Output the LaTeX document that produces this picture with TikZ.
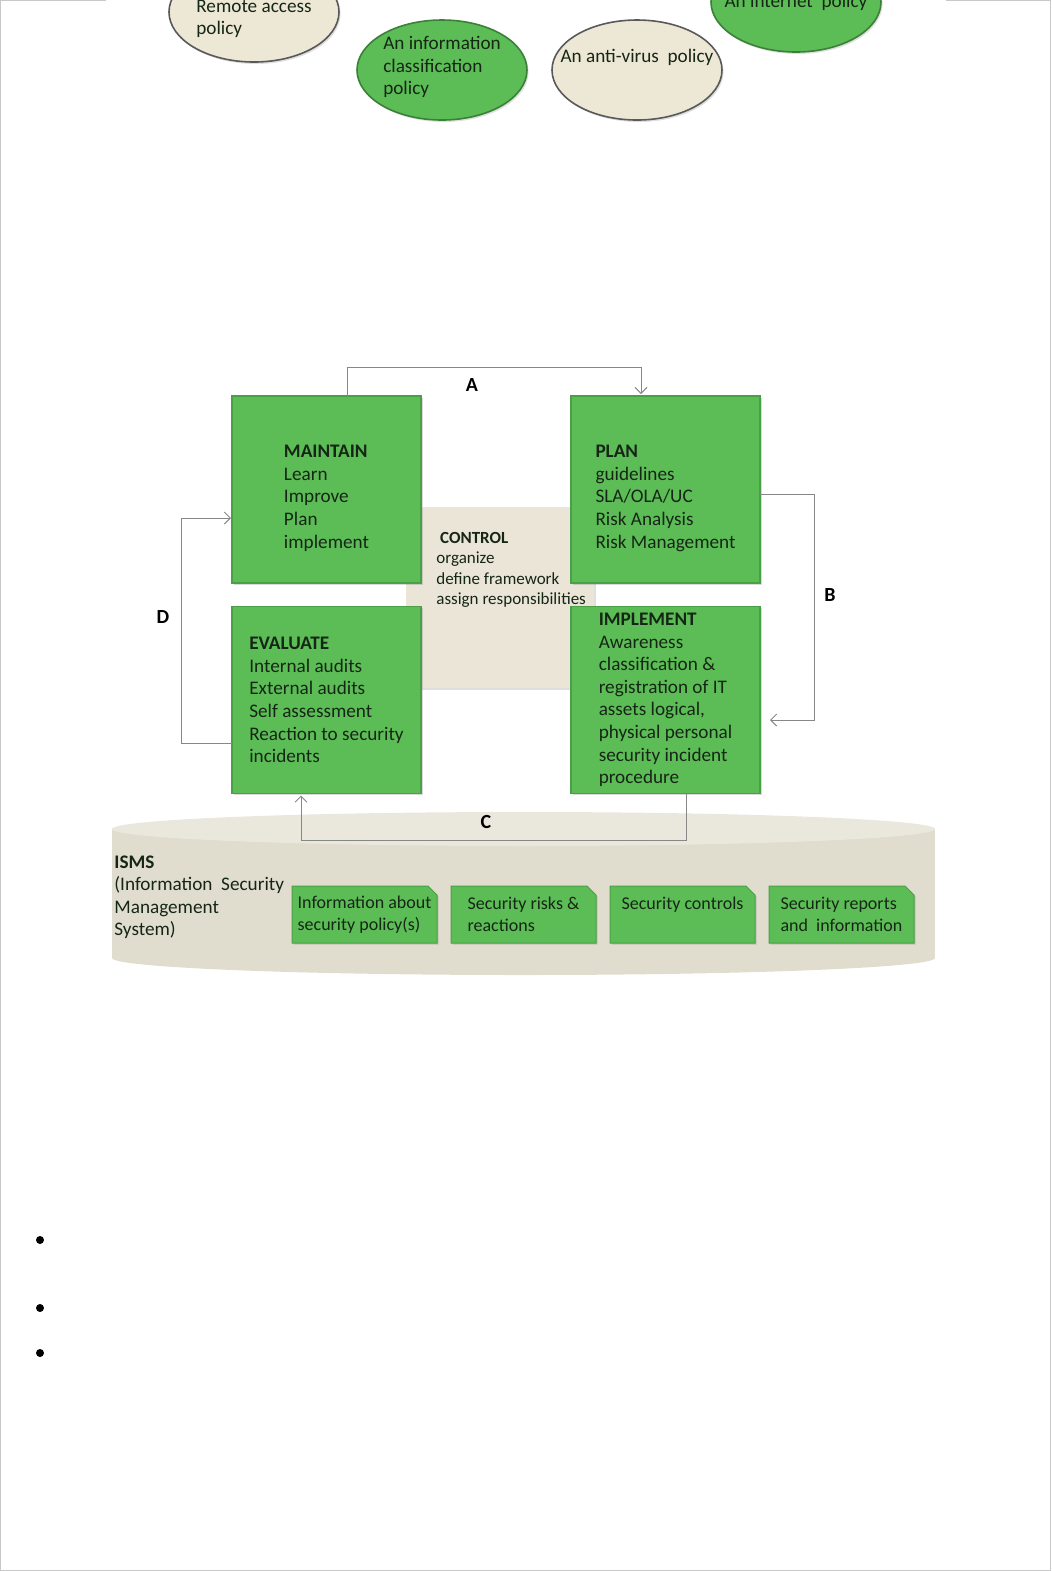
\documentclass[tikz,border=0pt]{standalone}
\usepackage{fontspec}
\setmainfont{Carlito}
\usepackage{tikz}
\usetikzlibrary{shapes.geometric,shapes.misc,arrows.meta,positioning,calc,shadows}
\definecolor{boxgreen}{RGB}{92,189,86}
\definecolor{boxedge}{RGB}{74,160,70}
\definecolor{boxtext}{RGB}{22,38,22}
\definecolor{ctrlbeige}{RGB}{234,229,214}
\definecolor{ovalbeige}{RGB}{237,232,214}
\definecolor{cylside}{RGB}{224,221,206}
\definecolor{cyltop}{RGB}{234,231,221}
\definecolor{linegray}{RGB}{135,135,135}
\definecolor{framegray}{RGB}{200,200,200}

\begin{document}
\begin{tikzpicture}[
    x=0.5pt, y=-0.5pt,
    font=\fontsize{9.6}{11.3}\selectfont,
    phase/.style={draw=boxedge, fill=boxgreen, line width=0.6pt, minimum width=94.5pt, minimum height=93.5pt, align=left, text=boxtext, outer sep=0pt, drop shadow={opacity=0.3, shadow xshift=0.8pt, shadow yshift=-0.8pt}},
    ctrlbox/.style={fill=ctrlbeige, minimum width=94pt, minimum height=90.5pt, outer sep=0pt, drop shadow={opacity=0.25, shadow xshift=0.8pt, shadow yshift=-0.8pt}},
    oval/.style={ellipse, minimum width=85pt, minimum height=50pt, inner sep=0pt, line width=0.8pt, drop shadow={opacity=0.25, shadow xshift=0.8pt, shadow yshift=-1pt}},
    greenoval/.style={oval, draw=boxedge!80!black, fill=boxgreen},
    beigeoval/.style={oval, draw=black!65, fill=ovalbeige},
    ovaltext/.style={align=left, text=boxtext, inner sep=0pt},
    store/.style={chamfered rectangle, chamfered rectangle corners=north east, chamfered rectangle xsep=1.5pt, chamfered rectangle ysep=3pt, draw=boxedge, fill=boxgreen, line width=0.5pt, minimum width=72.5pt, minimum height=28.5pt, inner xsep=1pt, inner ysep=1pt, align=left, text=boxtext, font=\fontsize{9}{11}\selectfont, drop shadow={opacity=0.3, shadow xshift=0.8pt, shadow yshift=-0.8pt}},
    conn/.style={draw=linegray, line width=0.5pt, -{Straight Barb[length=3pt, width=6pt]}},
    lbl/.style={font=\fontsize{10}{12}\selectfont\bfseries}
]
\useasboundingbox (0,0) rectangle (1052,1571);

% page frame
\draw[framegray, line width=0.6pt] (106,0.5) -- (0.5,0.5) -- (0.5,1570.5) -- (1050.5,1570.5) -- (1050.5,0.5) -- (946,0.5);

% policy ovals (cut at the top)
\begin{scope}
\clip (0,0) rectangle (1052,1571);
\node[beigeoval, label={[ovaltext, yshift=-3.5pt]center:{Remote access\\policy}}] (remote) at (254,12) {};
\node[greenoval, label={[ovaltext, yshift=1.5pt]center:{An information\\classification\\policy}}] (infoclass) at (442,70) {};
\node[beigeoval, label={[ovaltext, yshift=6.5pt]center:{An anti-virus\ \ policy}}] (antivirus) at (637,70) {};
\node[greenoval, label={[ovaltext]center:{An internet\ \ policy}}] (internet) at (796,2) {};
\end{scope}

% ISMS cylinder
\fill[cylside] (112,829) rectangle (935,958);
\fill[cylside] (523.5,958) ellipse [x radius=411.5, y radius=17];
\fill[cyltop] (523.5,829) ellipse [x radius=411.5, y radius=17];

% control in the middle
\node[ctrlbox] (control) at (500,597.5) {};

% the four phases
\node[phase] (maintain) at (326.5,489.5) {\rule{0pt}{15pt}\textbf{MAINTAIN}\\Learn\\Improve\\Plan\\implement};
\node[phase] (plan) at (665.5,489.5) {\rule{0pt}{15pt}\textbf{PLAN}\\guidelines\\SLA/OLA/UC\\Risk Analysis\\Risk Management};
\node[phase] (evaluate) at (326.5,700) {\textbf{EVALUATE}\\Internal audits\\External audits\\Self assessment\\Reaction to security\\incidents};
\node[phase] (implement) at (665.5,700) {\textbf{IMPLEMENT}\\Awareness\\classification \&\\registration of IT\\assets logical,\\physical personal\\security incident\\procedure};

\node[anchor=north west, align=left, inner sep=0pt, text=boxtext, font=\fontsize{8.5}{10.2}\selectfont] (ctrltext) at ($(control.north west)+(30,25)$) {\ \textbf{CONTROL}\\organize\\define framework\\assign responsibilities};

% cycle arrows
\draw[conn] ($(maintain.north)+(20.5,0)$) -- ++(0,-29) -| ($(plan.north)+(-24.5,-2)$);
\draw[conn] ($(plan.east)+(0,4.5)$) -- ++(54,0) |- ($(implement.east)+(10,20)$);
\draw[conn] ($(implement.south)+(20.5,0)$) -- ++(0,47) -| ($(evaluate.south)+(-25.5,2)$);
\draw[conn] ($(evaluate.west)+(0,43)$) -- ++(-51,0) |- ($(maintain.west)+(-1,28.5)$);

\node[lbl] (lblA) at (472,385) {A};
\node[lbl] (lblB) at (830,595) {B};
\node[lbl] (lblC) at (486,822) {C};
\node[lbl] (lblD) at (163,617) {D};

% ISMS contents
\node[anchor=north west, align=left, inner sep=0pt, text=boxtext] (isms) at (114,855) {\textbf{ISMS}\\(Information\ \ Security\\Management\\System)};
\node[store] (policyinfo) at (364.5,914.5) {Information about\\security policy(s)};
\node[store, right=6.5pt of policyinfo] (risks) {Security risks \&\\reactions};
\node[store, right=6.5pt of risks] (controls) {Security controls\\~};
\node[store, right=6.5pt of controls] (reports) {Security reports\\and\ \ information};

% bullets
\foreach \y/\n in {1240/1, 1308/2, 1353/3}
  \node[circle, fill=black, inner sep=0pt, minimum size=4pt] (bullet\n) at (40,\y) {};
\end{tikzpicture}
\end{document}
